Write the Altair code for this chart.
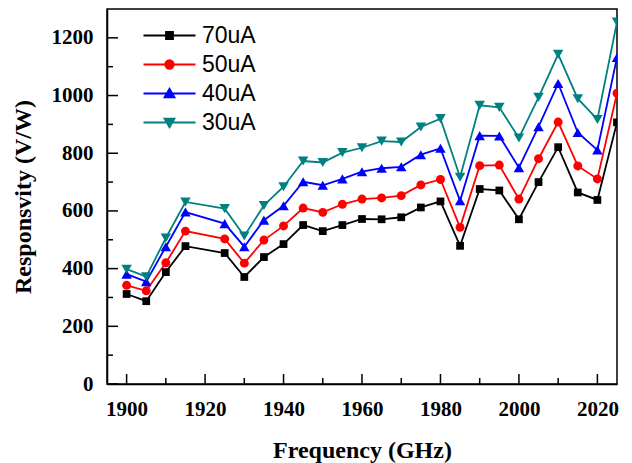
import altair as alt
import pandas as pd

freq = [1900, 1905, 1910, 1915, 1925, 1930, 1935, 1940, 1945, 1950, 1955, 1960, 1965,
        1970, 1975, 1980, 1985, 1990, 1995, 2000, 2005, 2010, 2015, 2020, 2025]
r70 = [312, 287, 388, 478, 454, 371, 440, 485, 551, 530, 551, 572, 571,
       578, 612, 633, 479, 676, 671, 571, 700, 821, 664, 638, 907]
r50 = [342, 323, 420, 530, 503, 419, 499, 548, 610, 595, 623, 641, 645,
       653, 690, 709, 543, 757, 759, 641, 781, 908, 756, 711, 1008]
r40 = [381, 355, 476, 596, 556, 476, 568, 618, 701, 689, 711, 736, 748,
       753, 795, 817, 635, 861, 860, 750, 892, 1042, 872, 811, 1132]
r30 = [398, 372, 506, 631, 608, 513, 619, 684, 773, 768, 802, 819, 842,
       839, 891, 920, 717, 966, 959, 853, 994, 1143, 989, 917, 1255]

series = ["70uA", "50uA", "40uA", "30uA"]
colors = ["#000000", "#FF0000", "#0000FF", "#008080"]
shapes = ["square", "circle", "triangle-up", "triangle-down"]
marker_sizes = [60, 80, 110, 110]
legend_paths = [
    "M-5.2,0H5.2M-0.7,-0.7H0.7V0.7H-0.7Z",
    "M-5.2,0H5.2M0.85,0A0.85,0.85,0,1,1,-0.85,0A0.85,0.85,0,1,1,0.85,0Z",
    "M-5.2,0H5.2M0,-0.95L1,0.75L-1,0.75Z",
    "M-5.2,0H5.2M0,0.95L1,-0.75L-1,-0.75Z",
]
x_labels = [1900, 1920, 1940, 1960, 1980, 2000, 2020]
x_minor = [1910, 1930, 1950, 1970, 1990, 2010]
y_labels = [0, 200, 400, 600, 800, 1000, 1200]
y_minor = [100, 300, 500, 700, 900, 1100]

rows = []
for name, vals in zip(series, [r70, r50, r40, r30]):
    for f, v in zip(freq, vals):
        rows.append({"freq": f, "resp": v, "series": name})
df = pd.DataFrame(rows)

W, H = 510, 375
SERIF = "Liberation Serif"
xscale = alt.Scale(domain=[1895, 2025], nice=False, zero=False)
yscale = alt.Scale(domain=[0, 1300], nice=False)
cscale = alt.Scale(domain=series, range=colors)

x_axis = alt.Axis(values=x_labels, format="d", ticks=False, tickSize=0, labelPadding=14,
                  labelFont=SERIF, labelFontSize=21, labelFontWeight="bold", labelColor="black",
                  domainColor="black", domainWidth=1.5, grid=False,
                  title="Frequency (GHz)", titleFont=SERIF, titleFontSize=24, titleFontWeight="bold",
                  titleColor="black", titleBaseline="alphabetic", titleY=73, labelFlush=False)
y_axis = alt.Axis(values=y_labels, format="d", ticks=False, tickSize=0, labelPadding=14,
                  labelFont=SERIF, labelFontSize=21, labelFontWeight="bold", labelColor="black",
                  domainColor="black", domainWidth=1.5, grid=False,
                  title="Responsvity (V/W)", titleFont=SERIF, titleFontSize=24, titleFontWeight="bold",
                  titleColor="black", titleBaseline="alphabetic", titleX=-77, titleAngle=270)

X = lambda f: alt.X(f, scale=xscale, axis=x_axis, title="Frequency (GHz)")
Y = lambda f: alt.Y(f, scale=yscale, axis=y_axis, title="Responsvity (V/W)")

line_layers, point_layers = [], []
for s, c, sh, sz in zip(series, colors, shapes, marker_sizes):
    sub = alt.Chart(df).transform_filter(alt.datum.series == s)
    line_layers.append(
        sub.mark_line(strokeWidth=1.8, color=c, clip=True).encode(x=X("freq:Q"), y=Y("resp:Q"))
    )
    point_layers.append(
        sub.mark_point(filled=True, opacity=1, shape=sh, size=sz, color=c, clip=True).encode(
            x=X("freq:Q"), y=Y("resp:Q"))
    )

# inward tick marks (major and minor), positioned through the scales
def xticks(vals, length):
    return alt.Chart(pd.DataFrame({"freq": vals})).mark_rule(color="black", strokeWidth=1.5).encode(
        x=X("freq:Q"), y=alt.value(H), y2=alt.value(H - length),
    )

def yticks(vals, length):
    return alt.Chart(pd.DataFrame({"resp": vals})).mark_rule(color="black", strokeWidth=1.5).encode(
        y=Y("resp:Q"), x=alt.value(0), x2=alt.value(length),
    )

legend = alt.Legend(orient="none", legendX=51, legendY=15, title=None,
                    labelFont="Liberation Sans", labelFontSize=23, labelColor="black",
                    symbolSize=100, symbolStrokeWidth=1.8, symbolOpacity=1,
                    labelOffset=21, rowPadding=5, padding=0)

carrier = alt.Chart(df).transform_filter("datum.resp < 0").mark_point(
    filled=True, opacity=1
).encode(
    x=X("freq:Q"), y=Y("resp:Q"),
    fill=alt.Fill("series:N", scale=cscale, legend=legend),
    stroke=alt.Stroke("series:N", scale=cscale, legend=legend),
    shape=alt.Shape("series:N", scale=alt.Scale(domain=series, range=legend_paths), legend=legend),
)

chart = alt.layer(
    *line_layers, *point_layers,
    xticks(x_labels, 10), xticks(x_minor, 6), yticks(y_labels, 11), yticks(y_minor, 6),
    carrier,
).properties(
    width=W, height=H,
    padding={"left": 107, "top": 9, "right": 15, "bottom": 79},
    autosize=alt.AutoSizeParams(type="none"),
).configure_view(stroke="black", strokeWidth=1.5)

chart.save("out.html", embed_options={"renderer": "svg", "actions": False})
